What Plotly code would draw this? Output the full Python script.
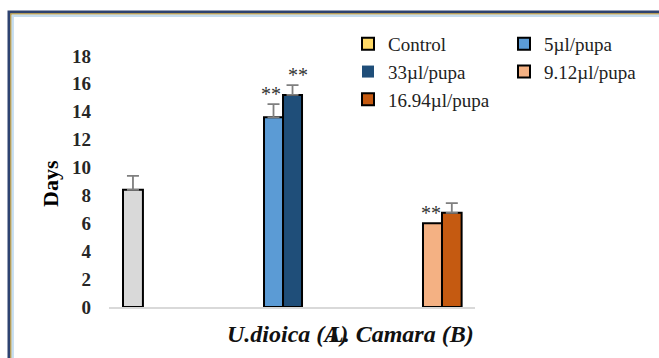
import plotly.graph_objects as go

# ---------------- data ----------------
categories = ["Control", "U.dioica (A)", "L.Camara (B)"]
series_names = ["Control", "5µl/pupa", "33µl/pupa", "9.12µl/pupa", "16.94µl/pupa"]
series_category = ["Control", "U.dioica (A)", "U.dioica (A)", "L.Camara (B)", "L.Camara (B)"]
series_values = [8.4, 13.6, 15.2, 6.0, 6.75]
series_errors = [1.0, 0.95, 0.7, 0.0, 0.7]
series_stars = ["", "**", "**", "**", ""]
y_ticks = [0, 2, 4, 6, 8, 10, 12, 14, 16, 18]

# ---------------- styles ----------------
bar_colors = ["#D9D9D9", "#5B9BD5", "#1F4E79", "#F4B183", "#C55A11"]
legend_colors = ["#FFD966", "#5B9BD5", "#1F4E79", "#F4B183", "#C55A11"]
legend_line = [2, 2, 0, 2, 2]
bar_offsets = [-0.0647, -0.152, -0.029, -0.123, 0.0]
bar_widths = [0.129, 0.123, 0.123, 0.123, 0.127]
star_shift = [0, -3, 5, -1, 0]

W, H = 659, 358
ML, MR, MT, MB = 109, 184, 28, 51
PW, PH = W - ML - MR, H - MT - MB
SERIF = "Liberation Serif, Times New Roman, serif"


def px_x(px):
    return (px - ML) / PW


def px_y(py):
    return (H - MB - py) / PH


fig = go.Figure()
for i, name in enumerate(series_names):
    fig.add_trace(go.Bar(
        x=[series_category[i]], y=[series_values[i]], name=name,
        marker=dict(color=bar_colors[i], line=dict(color="#000000", width=2)),
        width=[bar_widths[i]], offset=[bar_offsets[i]],
        error_y=dict(type="data", array=[series_errors[i]], arrayminus=[0], symmetric=False,
                     color="#7F7F7F", thickness=1.8, width=6, visible=series_errors[i] > 0),
        showlegend=False,
    ))
# legend entries (the legend swatches use their own colours)
for i, name in enumerate(series_names):
    fig.add_trace(go.Bar(
        x=[None], y=[None], name=name,
        marker=dict(color=legend_colors[i], line=dict(color="#000000", width=legend_line[i])),
        showlegend=True,
    ))

annotations = []
for i, s in enumerate(series_stars):
    if not s:
        continue
    annotations.append(dict(
        x=series_category[i], y=series_values[i] + series_errors[i], text=s,
        xref="x", yref="y", showarrow=False, yanchor="bottom",
        xshift=(bar_offsets[i] + bar_widths[i] / 2) * PW / 2.369 + star_shift[i], yshift=-3,
        font=dict(family=SERIF, size=20, color="#333333"),
    ))

annotations.append(dict(
    x=px_x(50), y=px_y(183), xref="paper", yref="paper", text="Days", textangle=-90,
    xanchor="center", yanchor="middle",
    showarrow=False, font=dict(family=SERIF, size=22, color="#000000", weight="bold"),
))
annotations.append(dict(
    x=px_x(350), y=px_y(334), xref="paper", yref="paper", text="<i>U.dioica (A)</i>",
    xanchor="right", yanchor="middle", showarrow=False,
    font=dict(family=SERIF, size=24, color="#111111", weight="bold"),
))
annotations.append(dict(
    x=px_x(326), y=px_y(334), xref="paper", yref="paper", text="<i>L. Camara (B)</i>",
    xanchor="left", yanchor="middle", showarrow=False,
    font=dict(family=SERIF, size=24, color="#111111", weight="bold"),
))

# frame
shapes = []
for (off, color, lw) in [(10.5, "#2E4370", 3), (12.5, "#C09A3A", 1.5), (14.2, "#C5DDF0", 2.4)]:
    shapes.append(dict(
        type="rect", xref="paper", yref="paper",
        x0=px_x(off - 1.5), x1=px_x(W + 40), y0=px_y(off + 1.5), y1=px_y(H + 40),
        line=dict(color=color, width=lw), fillcolor="rgba(0,0,0,0)", layer="above",
    ))

fig.update_layout(
    width=W, height=H,
    font=dict(family=SERIF),
    margin=dict(l=ML, r=MR, t=MT, b=MB, autoexpand=False),
    paper_bgcolor="#FFFFFF", plot_bgcolor="#FFFFFF",
    barmode="overlay",
    xaxis=dict(type="category", categoryorder="array", categoryarray=categories,
               range=[-0.1553, 2.2136], showticklabels=False, ticks="",
               showline=True, linecolor="#D9D9D9", linewidth=1.5, showgrid=False, zeroline=False,
               fixedrange=True),
    yaxis=dict(range=[0, 20], tickvals=y_ticks, ticktext=[str(v) for v in y_ticks],
               showgrid=False, zeroline=False, showline=False, ticks="",
               tickfont=dict(family=SERIF, size=19, color="#262626", weight="bold"),
               ticklabelstandoff=17),
    legend=dict(orientation="h", x=px_x(348), y=px_y(25), xanchor="left", yanchor="top",
                entrywidth=111, font=dict(family=SERIF, size=19, color="#222222"),
                bgcolor="rgba(0,0,0,0)", itemclick=False, traceorder="normal"),
    annotations=annotations,
    shapes=shapes,
    showlegend=True,
)

fig.write_html(
    "out.html",
    config={"displayModeBar": False},
    post_script="document.body.style.margin='0';document.body.style.overflow='hidden';",
)
